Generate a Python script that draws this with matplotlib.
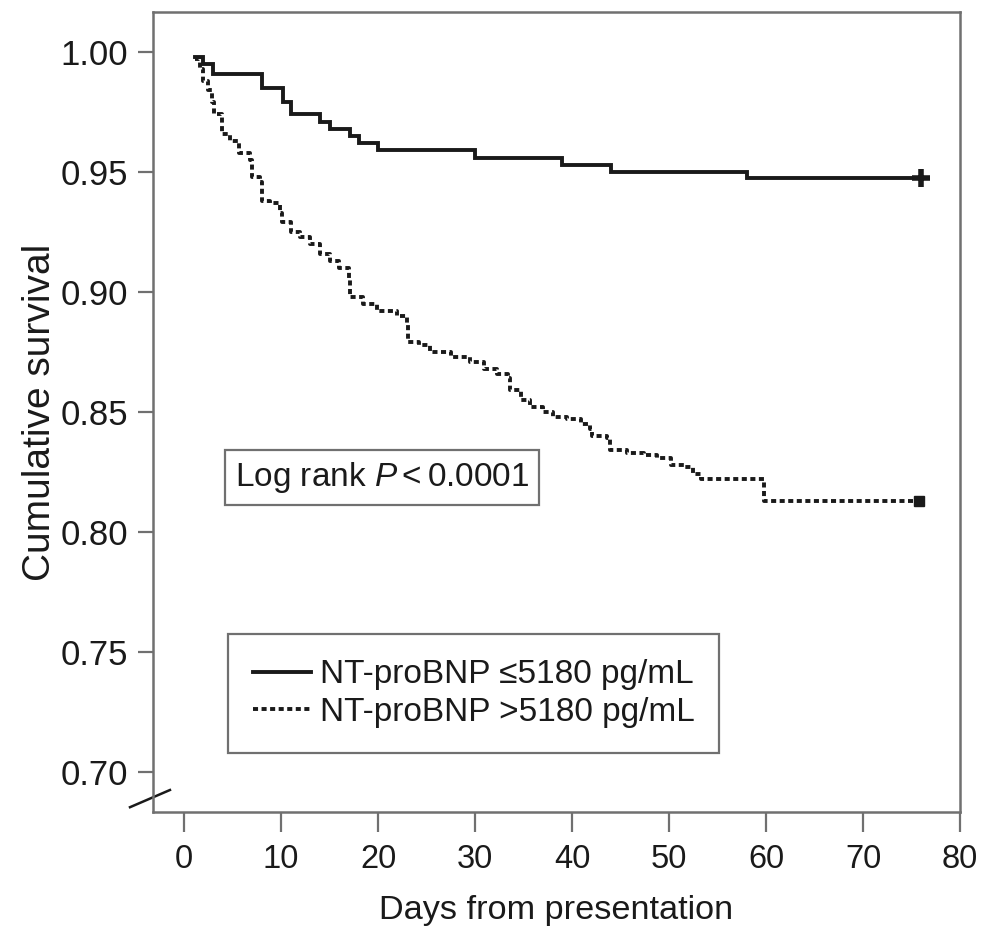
import matplotlib
matplotlib.use("Agg")
import matplotlib.pyplot as plt
from matplotlib import font_manager
from matplotlib.lines import Line2D

# ---------------- data ----------------
days_low = [1.1, 2.0, 3.0, 8.0, 10.2, 11.0, 14.0, 15.0, 17.1, 18.0, 20.0, 30.0, 39.0, 44.0, 58.0, 76.0]
surv_low = [0.998, 0.995, 0.991, 0.985, 0.979, 0.974, 0.971, 0.968, 0.965, 0.962, 0.959, 0.956, 0.953, 0.950, 0.9475, 0.9475]

days_high = [1.1, 1.6, 2.0, 2.5, 2.9, 3.1, 3.9, 4.7, 5.7, 6.8, 7.0, 7.8, 8.0, 8.9, 9.9, 10.1,
             11.0, 12.0, 13.0, 14.0, 15.0, 16.0, 17.0, 17.1, 18.5, 19.9, 22.0, 23.0, 23.1, 24.2,
             25.4, 27.5, 29.5, 30.9, 32.3, 33.4, 33.6, 34.7, 35.7, 37.0, 38.0, 39.5, 40.9, 41.9,
             42.1, 43.6, 43.9, 45.7, 47.4, 48.8, 50.2, 51.5, 52.5, 53.3, 59.8, 75.8]
surv_high = [0.997, 0.993, 0.988, 0.984, 0.979, 0.974, 0.966, 0.963, 0.958, 0.955, 0.948, 0.946, 0.938, 0.937, 0.933, 0.929,
             0.925, 0.923, 0.920, 0.916, 0.913, 0.910, 0.906, 0.898, 0.895, 0.892, 0.890, 0.887, 0.879, 0.878,
             0.875, 0.873, 0.871, 0.868, 0.866, 0.864, 0.859, 0.855, 0.852, 0.850, 0.848, 0.847, 0.845, 0.843,
             0.840, 0.839, 0.834, 0.833, 0.832, 0.831, 0.828, 0.827, 0.824, 0.822, 0.813, 0.813]

labels = ["NT-proBNP \u22645180 pg/mL", "NT-proBNP >5180 pg/mL"]
x_ticks = [0, 10, 20, 30, 40, 50, 60, 70, 80]
y_ticks = [0.70, 0.75, 0.80, 0.85, 0.90, 0.95, 1.00]
x_label = "Days from presentation"
y_label = "Cumulative survival"
annot = r"Log rank $P<0.0001$"

# ---------------- fonts ----------------
names = {f.name for f in font_manager.fontManager.ttflist}
narrow = "Liberation Sans Narrow" in names
cond = "Liberation Sans Narrow" if narrow else "Liberation Sans"
k = 1 / 0.82 if narrow else 1.0

plt.rcParams["mathtext.fontset"] = "custom"
plt.rcParams["mathtext.rm"] = cond
plt.rcParams["mathtext.it"] = cond + ":italic"

ink = "#1a1a1a"
grey = "#707070"

fig = plt.figure(figsize=(9.81, 9.32), dpi=100)
ax = fig.add_axes([153 / 981, 1 - 812 / 932, (960 - 153) / 981, 800 / 932])

l1, = ax.step(days_low, surv_low, where="post", color=ink, lw=2.8, solid_joinstyle="miter")
l2, = ax.step(days_high, surv_high, where="post", color=ink, lw=2.8, linestyle=(0, (1.3, 0.9)))
ax.plot([days_low[-1]], [surv_low[-1]], marker="+", ms=13, mew=4, color=ink)
ax.plot([days_high[-1]], [surv_high[-1]], marker="s", ms=7, color=ink)

ax.set_xlim(-3.2, 80)
ax.set_ylim(0.68333, 1.01667)

ax.set_xticks(x_ticks)
ax.set_yticks(y_ticks)
ax.set_yticklabels([f"{v:.2f}" for v in y_ticks], family="Liberation Sans", fontsize=25, color=ink)
ax.set_xticklabels([str(v) for v in x_ticks], family=cond, fontsize=23.5 * k, color=ink)
ax.tick_params(axis="y", length=10.8, width=1.6, color=grey, pad=7, direction="out")
ax.tick_params(axis="x", length=14.4, width=1.6, color=grey, pad=9, direction="out")

for s in ax.spines.values():
    s.set_color(grey)
    s.set_linewidth(1.8)

ax.set_xlabel(x_label, family=cond, fontsize=24.7 * k, color=ink, labelpad=14)
ax.set_ylabel(y_label, family=cond, fontsize=28 * k, color=ink, labelpad=2)

# axis break mark
ax.add_line(Line2D([-0.0285, 0.021], [0.006, 0.0275], transform=ax.transAxes,
                   color=ink, lw=1.8, clip_on=False))

ax.text(20.4, 0.8225, annot, family=cond, fontsize=24 * k, color=ink,
        ha="center", va="center",
        bbox=dict(boxstyle="square,pad=0.3", fc="white", ec=grey, lw=1.6))

leg = ax.legend([l1, l2], labels, loc="lower left", bbox_to_anchor=(0.0929, 0.07375),
                borderaxespad=0, fancybox=False, framealpha=1, edgecolor=grey,
                prop={"family": [cond, "DejaVu Sans"], "size": 24 * k},
                handlelength=1.75, handletextpad=0.25, labelspacing=0.2, borderpad=0.75,
                labelcolor=ink)
leg.get_frame().set_linewidth(1.6)

fig.savefig("out.png", dpi=100)
